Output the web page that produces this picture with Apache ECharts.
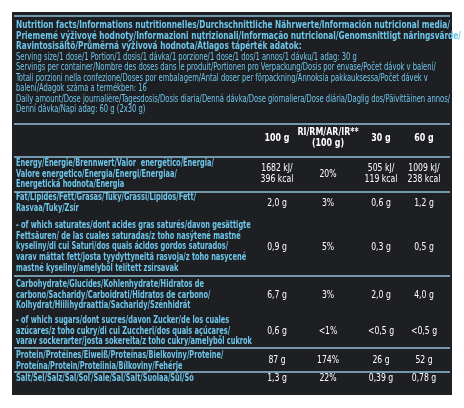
<!DOCTYPE html><html><head><meta charset="utf-8">
<script src="https://cdn.jsdelivr.net/npm/echarts@6/dist/echarts.min.js"></script>
<style>html,body{margin:0;background:#fff}#c{width:464px;height:408px}</style></head><body><div id="c"></div>
<script>
const headerBold = [
 "Nutrition facts/Informations nutritionnelles/Durchschnittliche Nährwerte/Información nutricional media/",
 "Priememé výživové hodnoty/Informazioni nutrizionali/Informação nutricional/Genomsnittligt näringsvärde/",
 "Ravintosisältö/Průměrná výživová hodnota/Átlagos tápérték adatok:"];
const headerPlain = [
 "Serving size/1 dose/1 Portion/1 dosis/1 dávka/1 porzione/1 dose/1 dos/1 annos/1 dávku/1 adag: 30 g",
 "Servings per container/Nombre des doses dans le produit/Portionen pro Verpackung/Dosis por envase/Počet dávok v balení/",
 "Totali porzioni nella confezione/Doses por embalagem/Antal doser per förpackning/Annoksia pakkauksessa/Počet dávek v",
 "balení/Adagok száma a termékben: 16",
 "Daily amount/Dose journalière/Tagesdosis/Dosis diaria/Denná dávka/Dose giornaliera/Dose diária/Daglig dos/Päivittäinen annos/",
 "Denní dávka/Napi adag: 60 g (2x30 g)"];
const columns = ["100 g", "RI/RM/AR/IR**\n(100 g)", "30 g", "60 g"];
const nutrients = [
 ["Energy/Énergie/Brennwert/Valor  energético/Energia/","Valore energetico/Energia/Energi/Energiaa/","Energetická hodnota/Energia"],
 ["Fat/Lipides/Fett/Grasas/Tuky/Grassi/Lípidos/Fett/","Rasvaa/Tuky/Zsír"],
 ["- of which saturates/dont acides gras saturés/davon gesättigte","Fettsäuren/ de las cuales saturadas/z toho nasýtené mastné","kyseliny/di cui Saturi/dos quais ácidos gordos saturados/","varav mättat fett/josta tyydyttyneitä rasvoja/z toho nasycené","mastné kyseliny/amelyből telített zsírsavak"],
 ["Carbohydrate/Glucides/Kohlenhydrate/Hidratos de","carbono/Sacharidy/Carboidrati/Hidratos de carbono/","Kolhydrat/Hiilihydraattia/Sacharidy/Szénhidrát"],
 ["- of which sugars/dont sucres/davon Zucker/de los cuales","azúcares/z toho cukry/di cui Zuccheri/dos quais açúcares/","varav sockerarter/josta sokereita/z toho cukry/amelyből cukrok"],
 ["Protein/Protéines/Eiweiß/Proteínas/Bielkoviny/Proteine/","Proteína/Protein/Proteiinia/Bílkoviny/Fehérje"],
 ["Salt/Sel/Salz/Sal/Soľ/Sale/Sal/Salt/Suolaa/Sůl/Só"]];
const per100 = ["1682 kJ/\n396 kcal","2,0 g","0,9 g","6,7 g","0,6 g","87 g","1,3 g"];
const riPct  = ["20%","3%","5%","3%","<1%","174%","22%"];
const per30  = ["505 kJ/\n119 kcal","0,6 g","0,3 g","2,0 g","<0,5 g","26 g","0,39 g"];
const per60  = ["1009 kJ/\n238 kcal","1,2 g","0,5 g","4,0 g","<0,5 g","52 g","0,78 g"];

// layout (pixel-space axes)
const colX = [277, 328, 381, 424];
const rowTop = [163, 197, 225, 284, 320, 355, 378];
const valY = [174, 203, 247, 295, 331, 360, 378];
const sepY = [16, 124, 157, 192, 276, 348, 372];
const LH = 10.8;
const BLUE = '#6ec6ea', FONT = '"DejaVu Sans Condensed","Liberation Sans",sans-serif';
const FB = 'bold 11px '+FONT, FR = '11px '+FONT;
const mctx = document.createElement('canvas').getContext('2d');
function w(s,f){mctx.font=f;return mctx.measureText(s).width;}
const sHB = 434/w(headerBold[0],FB);
const sHP = 434/w(headerPlain[4],FR);
const sLab = 236/w(nutrients[4][2],FB);
const sVal = 0.78;

const chart = echarts.init(document.getElementById('c'), null, {renderer:'canvas'});
function txt(api, x, y, s, opt, sc){
  const p = api.coord([x, y]);
  return {type:'text', x:p[0], y:p[1], scaleX:sc||1, style:Object.assign({text:s, fill:'#fff', font:FR, verticalAlign:'middle', align:'left', lineHeight:LH}, opt||{})};
}
chart.setOption({
  animation:false,
  grid:{left:0,right:0,top:0,bottom:0},
  xAxis:{type:'value',min:0,max:464,show:false},
  yAxis:{type:'value',min:0,max:408,inverse:true,show:false},
  series:[
   {type:'custom', data:[0], renderItem:(params, api)=>{
     const ch=[];
     const a=api.coord([12,12]), b=api.coord([452,395]);
     ch.push({type:'rect', shape:{x:a[0],y:a[1],width:b[0]-a[0],height:b[1]-a[1]}, style:{fill:'#1e1f23'}});
     sepY.forEach(y=>{const p=api.coord([14,y]),q=api.coord([450,y]);ch.push({type:'line',shape:{x1:p[0],y1:p[1],x2:q[0],y2:p[1]},style:{stroke:'#8ec3da',lineWidth:1.5}});});
     headerBold.forEach((s,i)=>ch.push(txt(api,16,25+i*10.8,s,{fill:BLUE,font:FB},sHB)));
     headerPlain.forEach((s,i)=>ch.push(txt(api,16,57+i*10.5,s,{fill:BLUE,font:FR},sHP)));
     columns.forEach((s,i)=>ch.push(txt(api,colX[i],138,s,{font:FB,align:'center'},0.8)));
     return {type:'group', children:ch};
   }},
   {type:'custom', data:nutrients.map((_,i)=>i), renderItem:(params, api)=>{
     const i=api.value(0), ch=[];
     nutrients[i].forEach((s,k)=>ch.push(txt(api,16,rowTop[i]+k*LH,s,{fill:BLUE,font:FB},sLab)));
     [per100,riPct,per30,per60].forEach((arr,c)=>ch.push(txt(api,colX[c],valY[i],arr[i],{align:'center'},sVal)));
     return {type:'group', children:ch};
   }}
  ]
});
</script></body></html>
